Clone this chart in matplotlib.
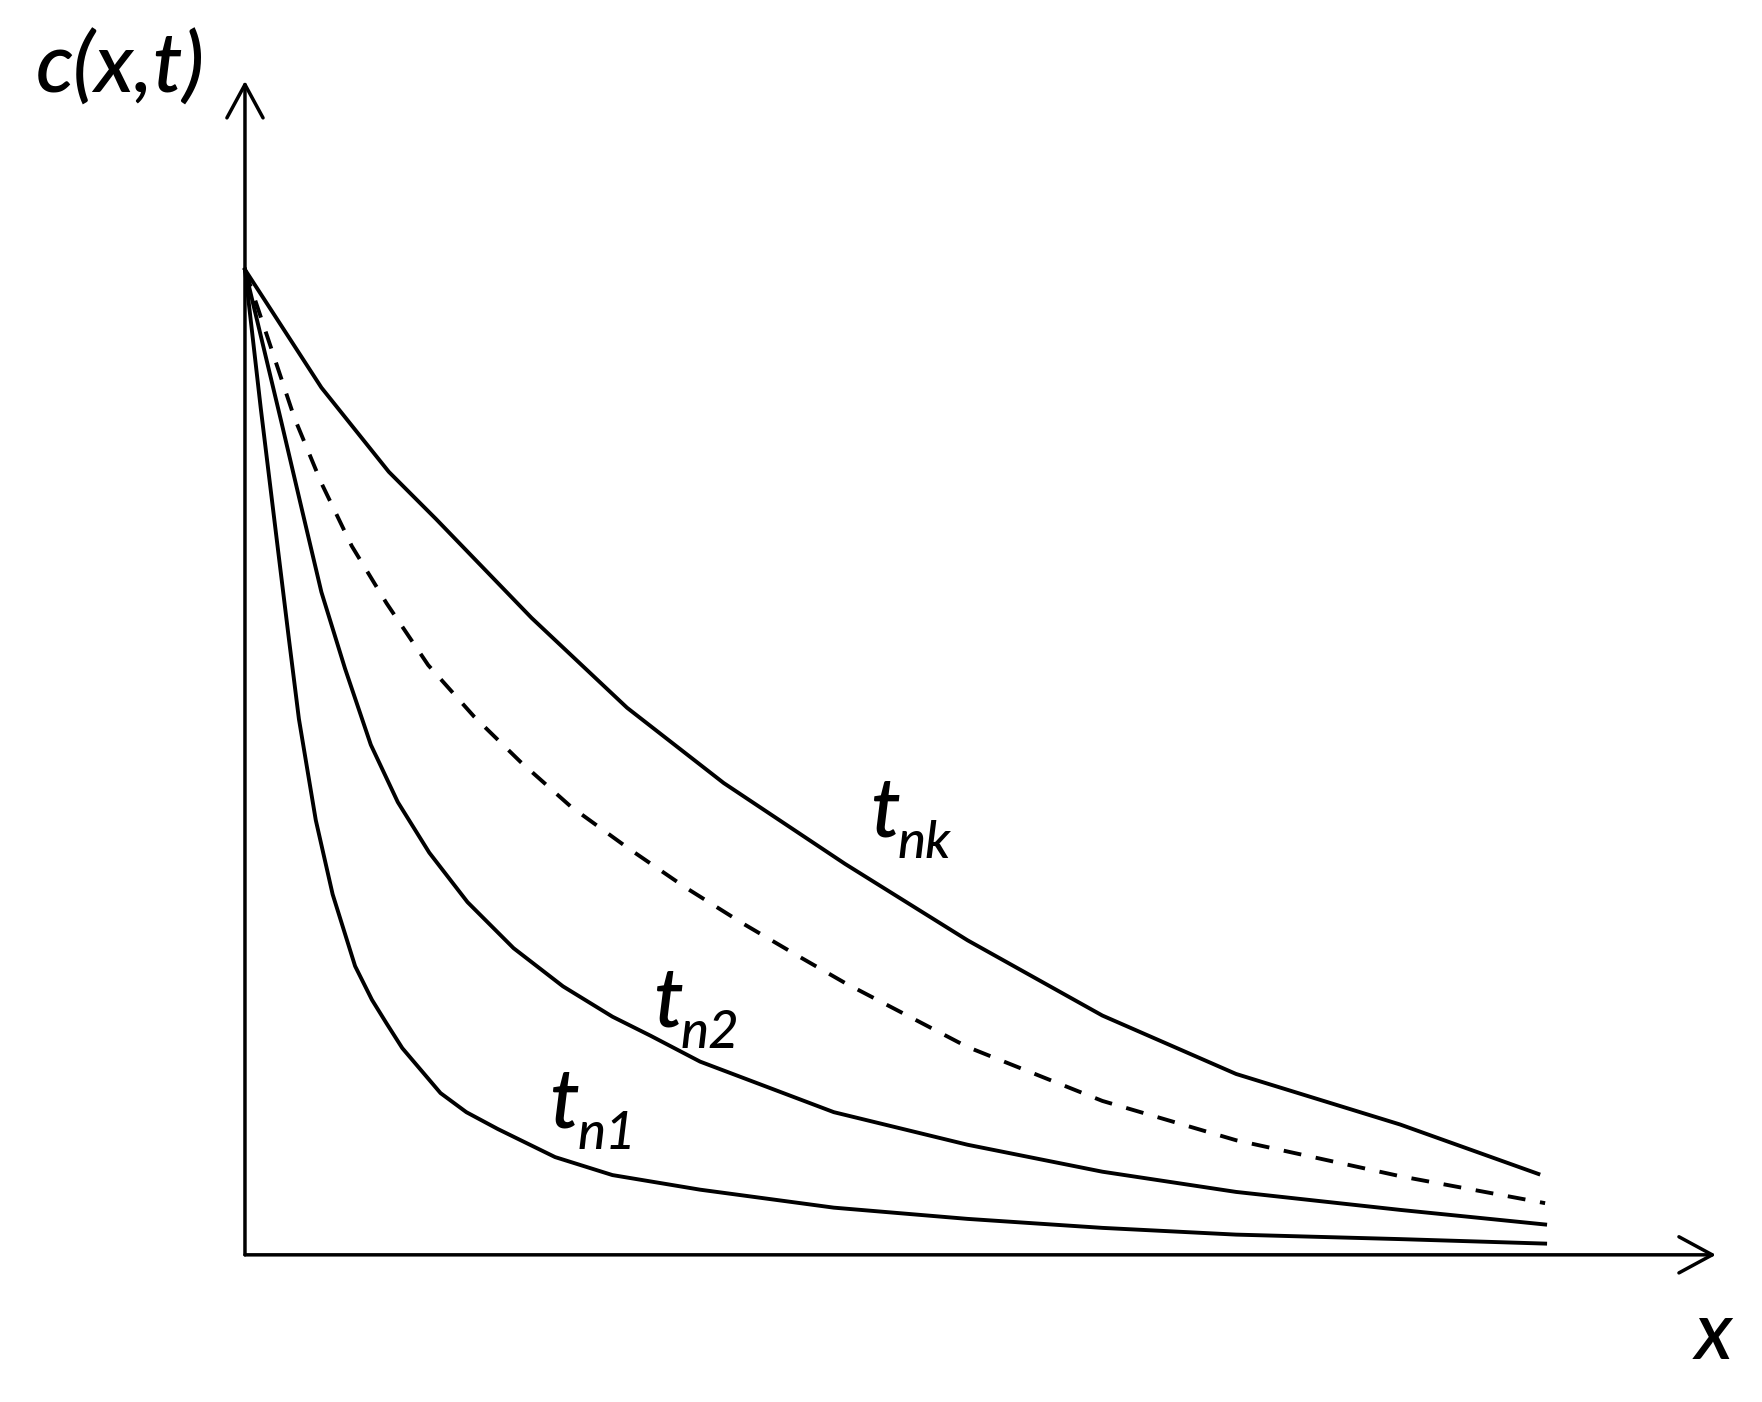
import matplotlib
matplotlib.use('Agg')
import matplotlib.pyplot as plt
import numpy as np

# values (x along the axis, c up from the x axis)
x_nk = [0, 68, 128, 170, 255, 340, 426, 534, 643, 763, 882, 1028, 1151]
c_nk = [877, 772, 697, 655, 567, 487, 420, 348, 280, 213, 161, 116, 72]

x_dash = [0, 44, 68, 95, 126, 163, 204, 245, 290, 341, 392, 443, 494, 534, 643, 763, 882, 1028, 1157]
c_dash = [877, 745, 687, 631, 580, 525, 479, 439, 399, 362, 327, 295, 265, 242, 185, 137, 102, 70, 46]

x_n2 = [0, 32, 51, 68, 89, 112, 136, 164, 198, 239, 283, 327, 361, 405, 524, 643, 763, 882, 1028, 1157]
c_n2 = [877, 743, 662, 590, 522, 454, 403, 358, 314, 273, 239, 212, 195, 172, 127, 98, 74, 56, 40, 27]

x_n1 = [0, 14, 28, 39, 48, 63, 78, 98, 113, 126, 140, 174, 197, 225, 276, 327, 405, 524, 643, 763, 882, 1028, 1157]
c_n1 = [877, 754, 639, 549, 477, 387, 321, 257, 227, 206, 184, 144, 127, 112, 87, 71, 58, 42, 32, 24, 18, 14, 10]

labels = ['nk', 'n2', 'n1']
label_pos = [(556, 372), (363, 203), (271, 113)]

fig = plt.figure(figsize=(17.62, 14.02), dpi=100)
ax = fig.add_axes([0, 0, 1, 1])
ax.set_xlim(-218, 1350)
ax.set_ylim(-131, 1117)
ax.axis('off')

lw = 2.8
ax.plot(x_nk, c_nk, color='black', lw=lw, solid_joinstyle='round')
ax.plot(x_dash, c_dash, color='black', lw=lw, dashes=(4.6, 3.8))
ax.plot(x_n2, c_n2, color='black', lw=lw, solid_joinstyle='round')
ax.plot(x_n1, c_n1, color='black', lw=lw, solid_joinstyle='round')

# axes arrows
arrow = dict(arrowstyle='->,head_length=24,head_width=13', lw=2.5, color='black',
             shrinkA=0, shrinkB=0, mutation_scale=1)
ax.annotate('', xy=(0, 1045), xytext=(0, 0), arrowprops=arrow)
ax.annotate('', xy=(1309, 0), xytext=(0, 0), arrowprops=arrow)

font = 'Lato'
wt = 'medium'
ax.text(-186, 1035, 'c(x,t)', fontsize=60, family=font, style='italic', weight=wt,
        va='baseline', ha='left')
ax.text(1290, -93, 'x', fontsize=58, family=font, style='italic', weight=wt,
        va='baseline', ha='left')

for lab, (lx, ly) in zip(labels, label_pos):
    ax.text(lx, ly, 't', fontsize=60, family=font, style='italic', weight=wt,
            va='baseline', ha='left')
    ax.annotate(lab, xy=(lx, ly), xytext=(20, -15), textcoords='offset points',
                fontsize=38, family=font, style='italic', weight=wt,
                va='baseline', ha='left')

fig.savefig('out.png', dpi=100, facecolor='white')
